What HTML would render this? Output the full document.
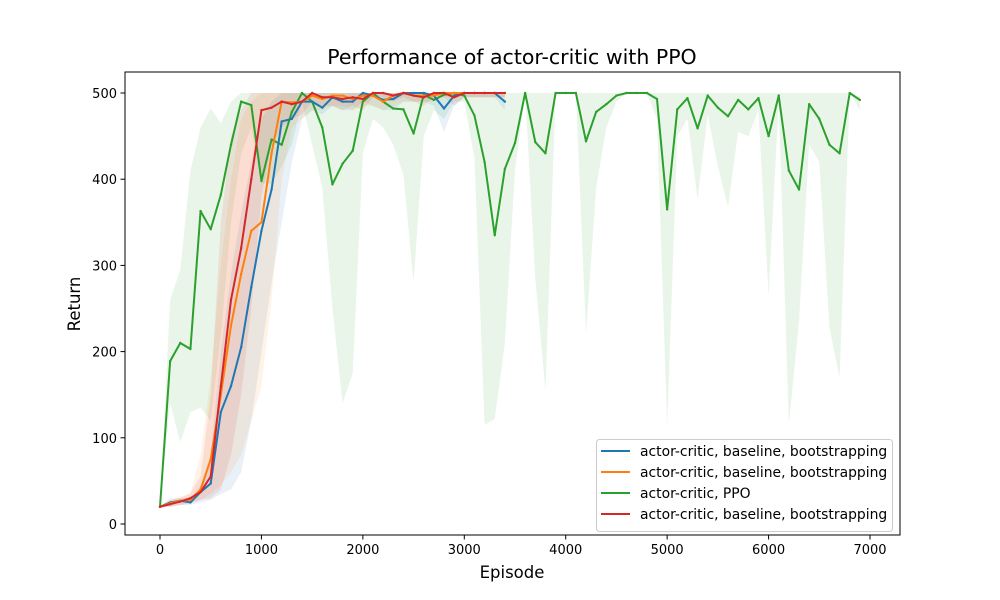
<!DOCTYPE html>
<html><head><meta charset="utf-8"><style>
body{margin:0;background:#fff;}
svg{display:block;font-family:"DejaVu Sans","Liberation Sans",sans-serif;}
</style></head><body>
<svg id="chart" width="1000" height="600">
<rect width="1000" height="600" fill="#fff"/>
<g id="bands"></g><g id="lines"></g>
<rect x="125" y="72" width="775" height="463" fill="none" stroke="#000" stroke-width="1"/>
<g id="axes"></g>
<text x="512" y="64" text-anchor="middle" font-size="20.5">Performance of actor-critic with PPO</text>
<text x="512" y="578" text-anchor="middle" font-size="16.5">Episode</text>
<text x="80" y="304" text-anchor="middle" font-size="16.5" transform="rotate(-90 80 304)">Return</text>
<g id="legend"></g>
</svg>
<script>
const xTicks=[0,1000,2000,3000,4000,5000,6000,7000];
const yTicks=[0,100,200,300,400,500];
const seriesNames=["actor-critic, baseline, bootstrapping","actor-critic, baseline, bootstrapping","actor-critic, PPO","actor-critic, baseline, bootstrapping"];
const seriesColors=["#1f77b4","#ff7f0e","#2ca02c","#d62728"];
const blueMean=[20,25,27,25,37,47,130,160,205,275,340,388,467,470,490,490,483,495,490,490,500,497,492,493,500,500,500,497,482,497,500,500,500,500,490];
const blueLow=[20,20,22,22,25,28,35,40,60,120,200,280,350,420,470,480,475,485,480,480,490,485,480,480,490,490,490,485,455,485,495,495,495,495,480];
const blueHigh=[20,30,30,30,45,80,200,290,360,420,470,490,500,500,500,500,500,500,500,500,500,500,500,500,500,500,500,500,500,500,500,500,500,500,500];
const orangeMean=[20,24,27,28,40,75,150,230,290,340,350,430,490,489,490,497,493,497,497,493,497,497,490,497,500,497,497,497,500,500,500,500,500,500,500];
const orangeLow=[20,20,22,24,28,35,45,60,80,120,160,260,400,460,470,480,480,485,485,480,485,485,480,485,490,490,490,490,495,495,495,495,495,495,495];
const orangeHigh=[20,28,32,35,80,170,300,400,470,490,500,500,500,500,500,500,500,500,500,500,500,500,500,500,500,500,500,500,500,500,500,500,500,500,500];
const greenMean=[20,189,210,203,363,342,382,440,490,486,398,446,440,478,500,490,460,394,418,433,490,500,490,482,481,453,498,492,498,500,497,474,420,335,412,442,500,443,430,500,500,500,444,478,487,497,500,500,500,493,365,481,494,459,497,483,473,492,481,494,450,497,410,388,487,470,440,430,500,492];
const greenLow=[20,140,95,130,135,120,220,350,430,460,395,395,415,440,490,440,390,250,140,175,430,470,460,440,405,280,450,480,470,490,490,425,115,122,210,410,500,285,155,500,500,500,220,390,460,490,500,500,500,470,113,450,470,377,475,415,368,455,450,480,265,490,115,235,440,420,228,170,500,480];
const greenHigh=[20,260,295,410,460,482,465,490,500,500,500,500,500,500,500,500,500,500,500,500,500,500,500,500,500,500,500,500,500,500,500,500,500,500,500,500,500,500,500,500,500,500,500,500,500,500,500,500,500,500,500,500,500,500,500,500,500,500,500,500,500,500,500,500,500,500,500,500,500,495];
const redMean=[20,23,26,30,37,55,160,260,320,400,480,483,490,487,490,500,495,495,493,495,493,500,500,497,500,497,495,500,500,495,500,500,500,500,500];
const redLow=[20,20,22,24,28,30,40,80,150,250,380,440,460,470,475,490,485,485,480,485,480,495,495,490,495,490,485,495,495,485,495,495,495,495,495];
const redHigh=[20,27,30,36,55,150,350,450,480,500,500,500,500,500,500,500,500,500,500,500,500,500,500,500,500,500,500,500,500,500,500,500,500,500,500];
const stepEp=100;
const NS="http://www.w3.org/2000/svg";
const xs=v=>160+v*0.10143;
const ys=v=>524-v*0.862;
function mk(tag,attrs,parent){const e=document.createElementNS(NS,tag);for(const k in attrs)e.setAttribute(k,attrs[k]);parent.appendChild(e);return e;}
const series=[[blueMean,blueLow,blueHigh],[orangeMean,orangeLow,orangeHigh],[greenMean,greenLow,greenHigh],[redMean,redLow,redHigh]];
const bands=document.getElementById('bands'),lines=document.getElementById('lines');
[2,0,1,3].forEach(i=>{const [m,lo,hi]=series[i];let pts=[];
hi.forEach((v,j)=>pts.push(xs(j*stepEp)+','+ys(v)));
for(let j=lo.length-1;j>=0;j--)pts.push(xs(j*stepEp)+','+ys(lo[j]));
const p=mk('polygon',{points:pts.join(' '),fill:seriesColors[i],'fill-opacity':0.1},bands);

});
[2,0,1,3].forEach(i=>{const m=series[i][0];
const l=mk('polyline',{points:m.map((v,j)=>xs(j*stepEp)+','+ys(v)).join(' '),fill:'none',stroke:seriesColors[i],'stroke-width':2,'stroke-linejoin':'round'},lines);


m.forEach((v,j)=>{const c=mk('circle',{cx:xs(j*stepEp),cy:ys(v),r:1.2,fill:seriesColors[i]},lines);

});});
const ax=document.getElementById('axes');
xTicks.forEach(t=>{const x=xs(t);mk('line',{x1:x,x2:x,y1:535,y2:539.5,stroke:'#000'},ax);
const tx=mk('text',{x:x,y:554,'text-anchor':'middle','font-size':13},ax);tx.textContent=t;

});
yTicks.forEach(t=>{const y=ys(t);mk('line',{x1:120.5,x2:125,y1:y,y2:y,stroke:'#000'},ax);
const tx=mk('text',{x:117,y:y+5,'text-anchor':'end','font-size':13},ax);tx.textContent=t;

});
const lg=document.getElementById('legend');
mk('rect',{x:596.5,y:439.5,width:296,height:92,rx:3,fill:'#fff','fill-opacity':0.8,stroke:'#ccc'},lg);
seriesNames.forEach((n,i)=>{const y=451+i*21;
mk('line',{x1:601,x2:630,y1:y,y2:y,stroke:seriesColors[i],'stroke-width':2},lg);
const t=mk('text',{x:640,y:y+5,'font-size':13.9},lg);t.textContent=n;

});
</script>
</body></html>
